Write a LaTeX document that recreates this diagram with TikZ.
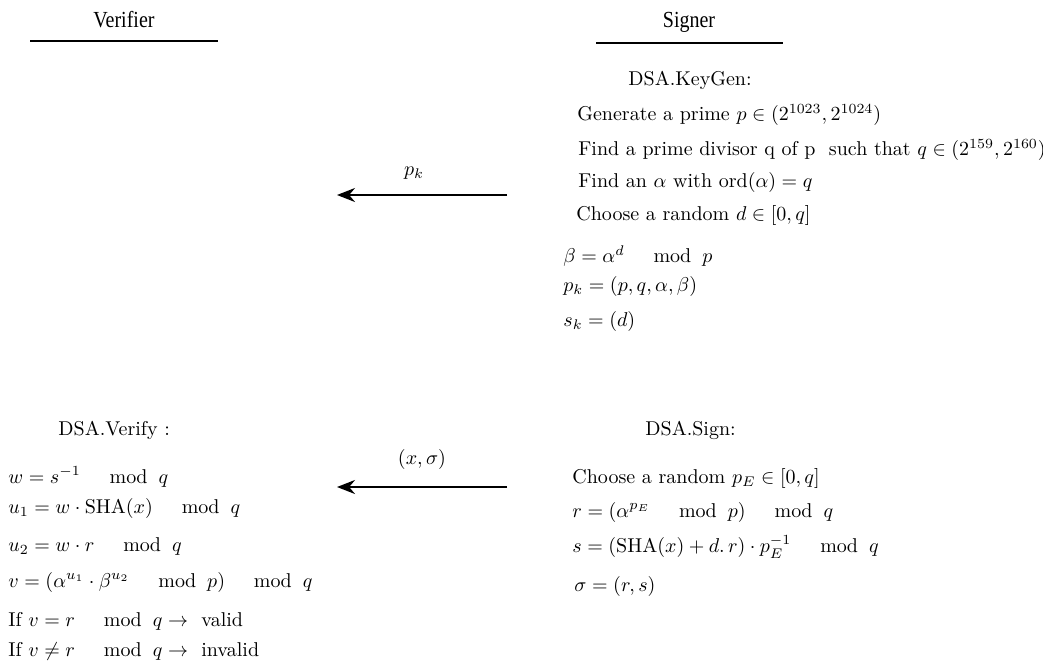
\documentclass[tikz,border=0pt]{standalone}
\usepackage{amsmath}
\usepackage{amssymb}
\usepackage{fontspec}
\newfontfamily\partyfont{Liberation Serif}
\usetikzlibrary{arrows.meta, positioning, calc}
\newcommand{\modop}[1]{\mkern26mu\mathrm{mod}\;\;#1}

\begin{document}
\begin{tikzpicture}[
    x=0.5pt, y=-0.5pt,
    party/.style={inner sep=0pt, font=\partyfont, yscale=1.15},
    title/.style={anchor=west, inner sep=0pt},
    step line/.style={anchor=west, inner sep=0pt},
    rule/.style={draw, line width=1pt},
    arrow/.style={draw, -{Stealth[length=9pt, width=7pt]}, line width=1pt}
]
\useasboundingbox (0,0) rectangle (1043,664);

% Parties
\node[party] (verifier) at (124,20) {Verifier};
\node[party] (signer) at (689,22) {Signer};
\coordinate (vl) at (30,41);
\coordinate (vr) at (218,41);
\coordinate (sl) at (596,43);
\coordinate (sr) at (783,43);
\draw[rule] (vl) -- (vr);
\draw[rule] (sl) -- (sr);

% Key generation
\node[title] (keygen) at (628,80) {DSA.KeyGen:};
\node[step line] (k1) at (577,115) {Generate a prime $p \in (2^{1023}, 2^{1024})$};
\node[step line] (k2) at (578,150) {Find a prime divisor q of p\ \ such that $q \in (2^{159}, 2^{160})$};
\node[step line] (k3) at (578,182) {Find an $\alpha$ with $\operatorname{ord}(\alpha) = q$};
\node[step line] (k4) at (576,215) {Choose a random $d \in [0, q]$};
\node[step line] (k5) at (563,256) {$\beta = \alpha^d \modop{p}$};
\node[step line] (k6) at (563,286) {$p_k = (p, q, \alpha, \beta)$};
\node[step line] (k7) at (563,321) {$s_k = (d)$};

% Signing
\node[title] (sign) at (645,430) {DSA.Sign:};
\node[step line] (s1) at (572,478) {Choose a random $p_E \in [0, q]$};
\node[step line] (s2) at (572,512) {$r = (\alpha^{p_E} \modop{p}) \modop{q}$};
\node[step line] (s3) at (572,547) {$s = (\mathrm{SHA}(x) + d.\, r) \cdot p_E^{-1} \modop{q}$};
\node[step line] (s4) at (574,586) {$\sigma = (r, s)$};

% Verification
\node[title] (verify) at (58,430) {DSA.Verify :};
\node[step line] (v1) at (8,477) {$w = s^{-1} \modop{q}$};
\node[step line] (v2) at (8,508) {$u_1 = w \cdot \mathrm{SHA}(x) \modop{q}$};
\node[step line] (v3) at (8,546) {$u_2 = w \cdot r \modop{q}$};
\node[step line] (v4) at (8,582) {$v = (\alpha^{u_1} \cdot \beta^{u_2} \modop{p}) \modop{q}$};
\node[step line] (v5) at (8,621) {If $v = r \modop{q} \rightarrow$\ \ valid};
\node[step line] (v6) at (8,651) {If $v \neq r \modop{q} \rightarrow$\ \ invalid};

% Connections
\coordinate (pkfrom) at (507,195);
\coordinate (pkto) at (337,195);
\coordinate (sigfrom) at (507,487);
\coordinate (sigto) at (337,487);
\draw[arrow] (pkfrom) -- node[above=4pt, xshift=-4pt] {$p_k$} (pkto);
\draw[arrow] (sigfrom) -- node[above=5pt] {$(x, \sigma)$} (sigto);

\end{tikzpicture}
\end{document}
